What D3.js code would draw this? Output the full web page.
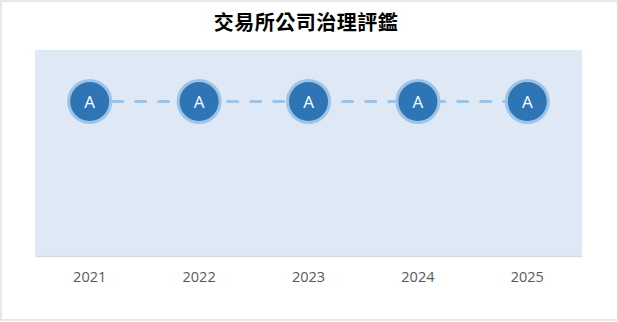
<!DOCTYPE html>
<html>
<head>
<meta charset="utf-8">
<script src="https://cdn.jsdelivr.net/npm/d3@7"></script>
<style>
  html, body { margin: 0; padding: 0; background: #fff; }
  svg { display: block; }
</style>
</head>
<body>
<svg id="chart" width="618" height="322"></svg>
<script>
// Governance rating by year
const title = "交易所公司治理評鑑";
const years = ["2021", "2022", "2023", "2024", "2025"];
const ratings = ["A", "A", "A", "A", "A"];
// rating ladder used for the vertical position (lowest to highest)
const grades = ["C", "B", "A", "A+"];

const W = 618, H = 322;
const plot = { left: 35, right: 582, top: 50, bottom: 256 };

const svg = d3.select("#chart");

// outer frame
svg.append("rect")
  .attr("x", 1).attr("y", 1)
  .attr("width", W - 1.5).attr("height", H - 3)
  .attr("fill", "#fff")
  .attr("stroke", "#d9d9d9")
  .attr("stroke-width", 1.2);

// plot background
svg.append("rect")
  .attr("x", plot.left).attr("y", plot.top)
  .attr("width", plot.right - plot.left)
  .attr("height", plot.bottom - plot.top)
  .attr("fill", "#dee9f5");

const x = d3.scaleBand().domain(years).range([plot.left, plot.right]);
const y = d3.scaleLinear().domain([0, grades.length]).range([plot.bottom, plot.top]);
const score = g => grades.indexOf(g) + 1;

// category axis
const xAxis = d3.axisBottom(x).tickSize(0).tickPadding(16);
const gx = svg.append("g")
  .attr("transform", `translate(0,${plot.bottom})`)
  .call(xAxis);
gx.select(".domain").attr("stroke", "#d9d9d9").attr("stroke-width", 1.5);
gx.selectAll("text")
  .attr("fill", "#595959")
  .style("font-family", "'Open Sans', sans-serif")
  .style("font-size", "14.5px");

const data = years.map((yr, i) => ({ year: yr, rating: ratings[i] }));
const cx = d => x(d.year) + x.bandwidth() / 2;
const cy = d => y(score(d.rating));

// dashed connector
svg.append("path")
  .datum(data)
  .attr("d", d3.line().x(cx).y(cy))
  .attr("fill", "none")
  .attr("stroke", "#9dc3e6")
  .attr("stroke-width", 3)
  .attr("stroke-linecap", "round")
  .attr("stroke-dasharray", "10,13");

// rating markers
const pts = svg.append("g").selectAll("g")
  .data(data).join("g")
  .attr("transform", d => `translate(${cx(d)},${cy(d)})`);

pts.append("circle")
  .attr("r", 21)
  .attr("fill", "#2e75b6")
  .attr("stroke", "#9dc3e6")
  .attr("stroke-width", 3);

pts.append("text")
  .text(d => d.rating)
  .attr("text-anchor", "middle")
  .attr("dy", "0.36em")
  .attr("fill", "#fff")
  .style("font-family", "'Open Sans', sans-serif")
  .style("font-size", "17px");

// title
svg.append("text")
  .attr("x", 306).attr("y", 30)
  .attr("text-anchor", "middle")
  .attr("fill", "#000")
  .style("font-family", "'Noto Sans CJK TC', sans-serif")
  .style("font-weight", "bold")
  .style("font-size", "20px")
  .style("letter-spacing", "0.5px")
  .text(title);
</script>
</body>
</html>
